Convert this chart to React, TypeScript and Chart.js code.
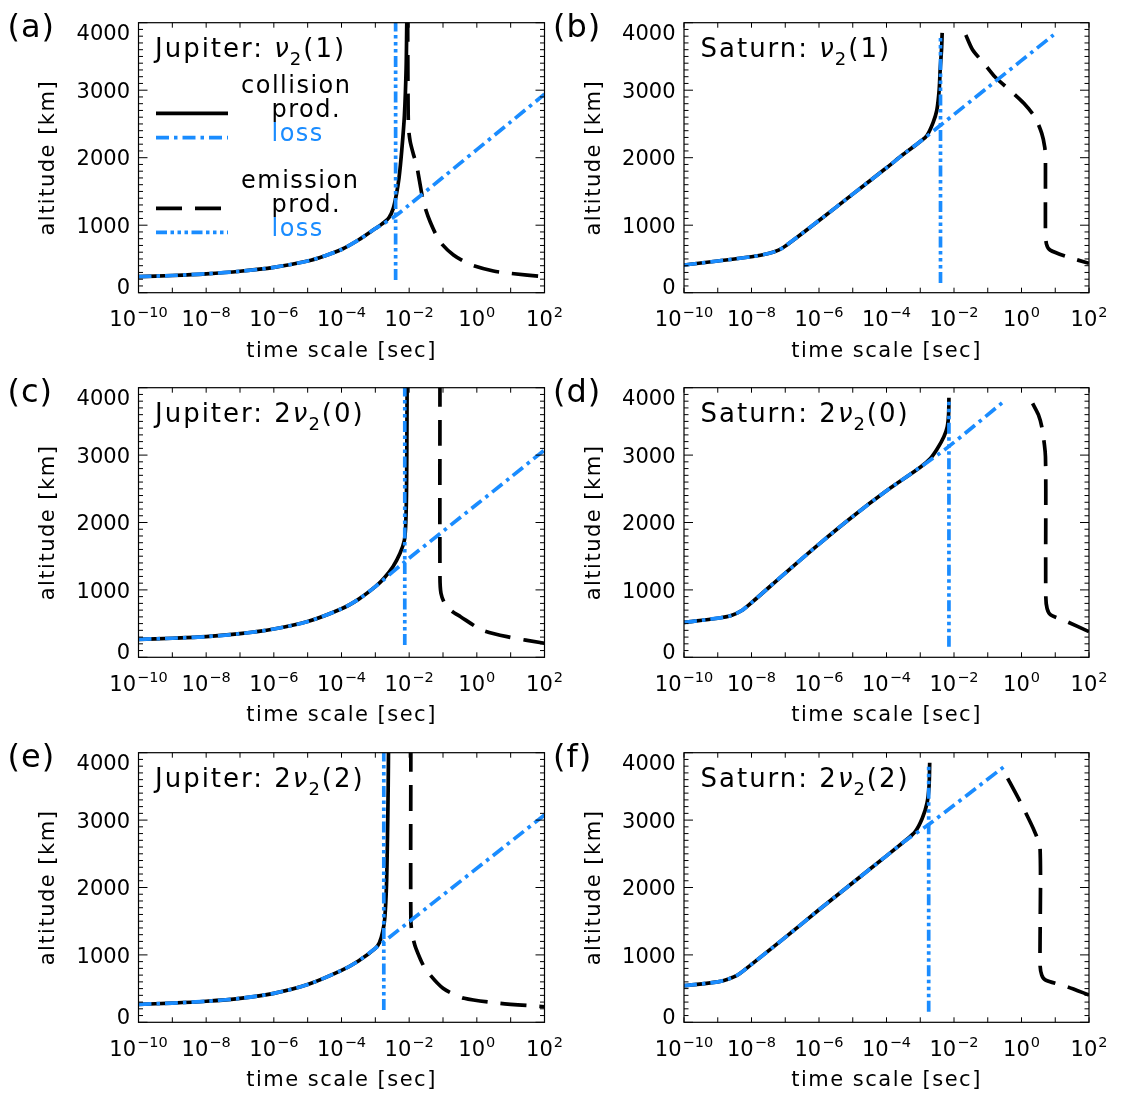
import React, { useEffect, useRef } from 'react';
import { Chart, registerables } from 'chart.js';

Chart.register(...registerables);

const FONT = '"DejaVu Sans", "Liberation Sans", sans-serif';
const BLUE = '#1a8cff';
const BLACK = '#000000';

// ---------- axes ----------
const xMinSec = 1e-10;
const xMaxSec = 1e2;
const yMinKm = 0;
const yMaxKm = 4000;
const yTickValues = [0, 1000, 2000, 3000, 4000];
const yMinorStepKm = 100;
const xTickExponents = [-10, -9, -8, -7, -6, -5, -4, -3, -2, -1, 0, 1, 2];
const xLabelExponents = [-10, -8, -6, -4, -2, 0, 2];

// ---------- data: log10(time scale [sec]) and altitude [km] ----------
// (a) Jupiter nu2(1)
const aCollProdLog = [-10, -9, -8, -7, -6, -5, -4.5, -4, -3.5, -3, -2.8, -2.6, -2.47, -2.38, -2.3, -2.22, -2.14, -2.09, -2.07, -2.065];
const aCollProdAlt = [237, 255, 280, 318, 375, 470, 545, 640, 780, 950, 1020, 1110, 1250, 1450, 1700, 2100, 2630, 3320, 4000, 4100];
const aCollLossLog = [-10, -9, -8, -7, -6, -5, -4.5, -4, -3.5, -3, -2.8, -2.4, -2, -1, 0, 1, 2];
const aCollLossAlt = [237, 255, 280, 318, 375, 470, 545, 640, 780, 950, 1010, 1140, 1300, 1710, 2120, 2530, 2940];
const aEmisProdLog = [-2.045, -2.035, -2.02, -1.97, -1.88, -1.78, -1.58, -1.38, -1.09, -0.69, -0.2, 0.49, 0.98, 2];
const aEmisProdAlt = [4100, 3000, 2450, 2240, 2060, 1890, 1350, 1050, 756, 558, 420, 321, 287, 237];
const aEmisLossLog = [-2.4, -2.4];
const aEmisLossAlt = [188, 4100];

// (b) Saturn nu2(1)
const bCollProdLog = [-10, -9, -8, -7.5, -7.2, -7, -6, -5, -4, -3.5, -3, -2.8, -2.62, -2.51, -2.44, -2.41, -2.37, -2.35];
const bCollProdAlt = [410, 470, 533, 580, 630, 690, 1070, 1460, 1850, 2050, 2240, 2330, 2520, 2700, 3000, 3300, 3600, 3850];
const bCollLossLog = [-10, -9, -8, -7.5, -7.2, -7, -6, -5, -4, -3.5, -3, -2.4, -1, 0.95];
const bCollLossAlt = [410, 470, 533, 580, 630, 690, 1070, 1460, 1850, 2050, 2240, 2480, 3040, 3820];
const bEmisProdLog = [-1.65, -1.45, -1.1, -0.79, -0.3, 0.07, 0.4, 0.6, 0.69, 0.71, 0.71, 0.74, 0.85, 1.35, 2];
const bEmisProdAlt = [3818, 3600, 3390, 3200, 2980, 2806, 2600, 2361, 2150, 1950, 900, 720, 630, 533, 435];
const bEmisLossLog = [-2.4, -2.4];
const bEmisLossAlt = [143, 3815];

// (c) Jupiter 2nu2(0)
const cCollProdLog = [-10, -9, -8, -7, -6, -5, -4, -3.5, -3, -2.75, -2.48, -2.27, -2.14, -2.1, -2.08, -2.07, -2.06];
const cCollProdAlt = [267, 283, 306, 350, 420, 530, 720, 860, 1048, 1170, 1344, 1543, 1740, 2000, 2400, 3000, 4100];
const cCollLossLog = [-10, -9, -8, -7, -6, -5, -4, -3.5, -3, -2.13, -1, 0, 1, 2];
const cCollLossAlt = [267, 283, 306, 350, 420, 530, 720, 860, 1048, 1418, 1870, 2270, 2670, 3076];
const cEmisProdLog = [-1.09, -1.09, -1.06, -0.95, -0.75, -0.48, 0.15, 0.89, 2];
const cEmisProdAlt = [4100, 1200, 950, 800, 690, 602, 405, 306, 208];
const cEmisLossLog = [-2.13, -2.13];
const cEmisLossAlt = [182, 4100];

// (d) Saturn 2nu2(0)
const dCollProdLog = [-10, -9, -8.6, -8.3, -8, -7, -6, -5, -4, -3, -2.7, -2.5, -2.3, -2.2, -2.16, -2.15];
const dCollProdAlt = [519, 580, 620, 690, 810, 1250, 1680, 2090, 2470, 2820, 2950, 3090, 3273, 3420, 3600, 3850];
const dCollLossLog = [-10, -9, -8.6, -8.3, -8, -7, -6, -5, -4, -3, -2.15, -0.55];
const dCollLossAlt = [519, 580, 620, 690, 810, 1250, 1680, 2090, 2470, 2820, 3130, 3785];
const dEmisProdLog = [0.33, 0.5, 0.6, 0.68, 0.71, 0.72, 0.72, 0.76, 0.87, 1.35, 2];
const dEmisProdAlt = [3768, 3600, 3422, 3150, 2976, 2500, 900, 720, 628, 528, 380];
const dEmisLossLog = [-2.15, -2.15];
const dEmisLossAlt = [157, 3800];

// (e) Jupiter 2nu2(2)
const eCollProdLog = [-10, -9, -8, -7, -6, -5, -4, -3.5, -3, -2.88, -2.78, -2.72, -2.67, -2.64, -2.62, -2.61];
const eCollProdAlt = [267, 285, 312, 355, 430, 560, 770, 910, 1098, 1180, 1350, 1550, 2037, 2779, 3500, 4100];
const eCollLossLog = [-10, -9, -8, -7, -6, -5, -4, -3.5, -3, -2.75, 2];
const eCollLossAlt = [267, 285, 312, 355, 430, 560, 770, 910, 1098, 1196, 3076];
const eEmisProdLog = [-1.95, -1.95, -1.9, -1.8, -1.53, -1.0, -0.37, 0.69, 2];
const eEmisProdAlt = [4100, 1500, 1280, 1098, 801, 504, 356, 282, 231];
const eEmisLossLog = [-2.75, -2.75];
const eEmisLossAlt = [182, 4100];

// (f) Saturn 2nu2(2)
const fCollProdLog = [-10, -9, -8.7, -8.41, -8, -7, -6, -5, -4, -3.48, -3.15, -2.94, -2.8, -2.74, -2.72];
const fCollProdAlt = [543, 600, 640, 702, 860, 1260, 1670, 2070, 2470, 2680, 2828, 3027, 3250, 3500, 3850];
const fCollLossLog = [-10, -9, -8.7, -8.41, -8, -7, -6, -5, -4, -3.48, -2.75, -0.52];
const fCollLossAlt = [543, 600, 640, 702, 860, 1260, 1670, 2070, 2470, 2680, 2935, 3792];
const fEmisProdLog = [-0.41, -0.04, 0.39, 0.55, 0.55, 0.6, 0.71, 1.35, 2];
const fEmisProdAlt = [3620, 3273, 2828, 2582, 850, 700, 628, 528, 405];
const fEmisLossLog = [-2.75, -2.75];
const fEmisLossAlt = [157, 3792];

// ---------- panel texts ----------
const panelLetters = ['(a)', '(b)', '(c)', '(d)', '(e)', '(f)'];
const panelPlanets = ['Jupiter:', 'Saturn:', 'Jupiter:', 'Saturn:', 'Jupiter:', 'Saturn:'];
const panelCoefs = ['', '', '2', '2', '2', '2'];
const panelLevels = ['(1)', '(1)', '(0)', '(0)', '(2)', '(2)'];
const xTitle = 'time scale [sec]';
const yTitle = 'altitude [km]';
const legendGroups = ['collision', 'emission'];
const legendRows = ['prod.', 'loss'];

// ---------- layout ----------
const COL_L = [138.5, 684];
const COL_R = [544.5, 1089];
const ROW_T = [22.7, 387.7, 752.7];
const ROW_B = [292.7, 657.3, 1022.3];
const COL_CX = [0, 548];
const COL_CW = [570, 580];
const ROW_CY = [0, 365, 730];
const ROW_CH = [366, 366, 372];

const STYLE = {
  collProd: { color: BLACK, dash: [] as number[] },
  collLoss: { color: BLUE, dash: [13, 5, 3.5, 5] },
  emisProd: { color: BLACK, dash: [26, 13] },
  emisLoss: { color: BLUE, dash: [11, 3.5, 3.5, 3.5, 3.5, 3.5, 3.5, 3.5] },
};
const LINE_W = 3.7;

type Series = [number[], number[]];
type PanelDef = {
  idx: number;
  col: number;
  row: number;
  cp: Series;
  cl: Series;
  ep: Series;
  el: Series;
};

const panels: PanelDef[] = [
  { idx: 0, col: 0, row: 0, cp: [aCollProdLog, aCollProdAlt], cl: [aCollLossLog, aCollLossAlt], ep: [aEmisProdLog, aEmisProdAlt], el: [aEmisLossLog, aEmisLossAlt] },
  { idx: 1, col: 1, row: 0, cp: [bCollProdLog, bCollProdAlt], cl: [bCollLossLog, bCollLossAlt], ep: [bEmisProdLog, bEmisProdAlt], el: [bEmisLossLog, bEmisLossAlt] },
  { idx: 2, col: 0, row: 1, cp: [cCollProdLog, cCollProdAlt], cl: [cCollLossLog, cCollLossAlt], ep: [cEmisProdLog, cEmisProdAlt], el: [cEmisLossLog, cEmisLossAlt] },
  { idx: 3, col: 1, row: 1, cp: [dCollProdLog, dCollProdAlt], cl: [dCollLossLog, dCollLossAlt], ep: [dEmisProdLog, dEmisProdAlt], el: [dEmisLossLog, dEmisLossAlt] },
  { idx: 4, col: 0, row: 2, cp: [eCollProdLog, eCollProdAlt], cl: [eCollLossLog, eCollLossAlt], ep: [eEmisProdLog, eEmisProdAlt], el: [eEmisLossLog, eEmisLossAlt] },
  { idx: 5, col: 1, row: 2, cp: [fCollProdLog, fCollProdAlt], cl: [fCollLossLog, fCollLossAlt], ep: [fEmisProdLog, fEmisProdAlt], el: [fEmisLossLog, fEmisLossAlt] },
];

function toPoints(s: Series) {
  return s[0].map((e, i) => ({ x: Math.pow(10, e), y: s[1][i] }));
}

function setFont(ctx: any, size: number, spacing = 0, style = '') {
  ctx.font = `${style} ${size}px ${FONT}`.trim();
  ctx.letterSpacing = `${spacing}px`;
}

function makeDecor(p: PanelDef) {
  return {
    id: 'decor' + p.idx,
    afterDraw(chart: any) {
      const ctx = chart.ctx;
      const { left: l, right: r, top: t, bottom: b } = chart.chartArea;
      const xs = chart.scales.x;
      const ys = chart.scales.y;
      ctx.save();
      ctx.setLineDash([]);
      ctx.strokeStyle = '#000';
      ctx.lineWidth = 1.2;
      ctx.strokeRect(l, t, r - l, b - t);

      // ticks (inward on all four sides)
      ctx.lineWidth = 1;
      ctx.beginPath();
      for (let v = yMinKm; v <= yMaxKm; v += yMinorStepKm) {
        const py = ys.getPixelForValue(v);
        const len = yTickValues.includes(v) ? 9 : 4.5;
        ctx.moveTo(l, py);
        ctx.lineTo(l + len, py);
        ctx.moveTo(r, py);
        ctx.lineTo(r - len, py);
      }
      for (const e of xTickExponents) {
        const px = xs.getPixelForValue(Math.pow(10, e));
        ctx.moveTo(px, b);
        ctx.lineTo(px, b - 5);
        ctx.moveTo(px, t);
        ctx.lineTo(px, t + 5);
      }
      ctx.stroke();

      ctx.fillStyle = '#000';
      ctx.textBaseline = 'alphabetic';

      // y tick labels
      setFont(ctx, 21);
      ctx.textAlign = 'right';
      for (const v of yTickValues) {
        let cy = ys.getPixelForValue(v);
        if (v === yMaxKm) cy = t + 9.8;
        if (v === yMinKm) cy = b - 6;
        ctx.fillText(String(v), l - 8.5, cy + 7.6);
      }

      // x tick labels: 10 with superscript exponent
      ctx.textAlign = 'left';
      for (const e of xLabelExponents) {
        const px = xs.getPixelForValue(Math.pow(10, e));
        const sup = (e < 0 ? '\u2212' : '') + String(Math.abs(e));
        setFont(ctx, 21);
        const wBase = ctx.measureText('10').width;
        setFont(ctx, 14.5);
        const wSup = ctx.measureText(sup).width;
        const x0 = px - (wBase + wSup + 1) / 2;
        setFont(ctx, 21);
        ctx.fillText('10', x0, b + 33.2);
        setFont(ctx, 14.5);
        ctx.fillText(sup, x0 + wBase + 1, b + 24.2);
      }

      // axis titles
      setFont(ctx, 21, 1.5);
      ctx.textAlign = 'center';
      ctx.fillText(xTitle, (l + r) / 2, b + 64);
      ctx.save();
      ctx.translate(l - 84.5, (t + b) / 2);
      ctx.rotate(-Math.PI / 2);
      ctx.fillText(yTitle, 0, 0);
      ctx.restore();

      // panel letter
      setFont(ctx, 32, 1);
      ctx.textAlign = 'left';
      ctx.fillText(panelLetters[p.idx], l - 131, t + 14);

      // panel title
      let x = l + 16.5;
      const base = t + 34;
      setFont(ctx, 26, 2);
      const pre = panelPlanets[p.idx] + ' ' + panelCoefs[p.idx];
      ctx.fillText(pre, x, base);
      x += ctx.measureText(pre).width;
      setFont(ctx, 26, 0, 'italic');
      ctx.fillText('\u03bd', x, base);
      x += ctx.measureText('\u03bd').width + 1;
      setFont(ctx, 18, 0);
      ctx.fillText('2', x, base + 8);
      x += ctx.measureText('2').width + 2;
      setFont(ctx, 26, 2);
      ctx.fillText(panelLevels[p.idx], x, base);

      // legend (panel a only)
      if (p.idx === 0) {
        const lineX0 = l + 17.5;
        const lineX1 = l + 89.5;
        const lines = [
          { y: t + 90.6, s: STYLE.collProd },
          { y: t + 115, s: STYLE.collLoss },
          { y: t + 185.6, s: STYLE.emisProd },
          { y: t + 209.6, s: STYLE.emisLoss },
        ];
        ctx.lineWidth = LINE_W;
        ctx.lineCap = 'butt';
        for (const ln of lines) {
          ctx.strokeStyle = ln.s.color;
          ctx.setLineDash(ln.s.dash);
          ctx.beginPath();
          ctx.moveTo(lineX0, ln.y);
          ctx.lineTo(lineX1, ln.y);
          ctx.stroke();
        }
        ctx.setLineDash([]);
        setFont(ctx, 24, 1.5);
        ctx.textAlign = 'left';
        const groupY = [t + 70.6, t + 165.6];
        for (let g = 0; g < 2; g++) {
          ctx.fillStyle = '#000';
          ctx.fillText(legendGroups[g], l + 102.5, groupY[g]);
          ctx.fillText(legendRows[0], l + 133, groupY[g] + 23.4);
          ctx.fillStyle = BLUE;
          ctx.fillText(legendRows[1], l + 133, groupY[g] + 47.5);
        }
      }
      ctx.restore();
    },
  };
}

function PanelChart({ p }: { p: PanelDef }) {
  const ref = useRef<HTMLCanvasElement>(null);
  const cx = COL_CX[p.col];
  const cy = ROW_CY[p.row];
  const w = COL_CW[p.col];
  const h = ROW_CH[p.row];
  useEffect(() => {
    const L = COL_L[p.col];
    const R = COL_R[p.col];
    const T = ROW_T[p.row];
    const B = ROW_B[p.row];
    const common = { showLine: true, pointRadius: 0, borderWidth: LINE_W, fill: false, clip: 0, borderCapStyle: 'butt', borderJoinStyle: 'round' };
    const chart = new Chart(ref.current as HTMLCanvasElement, {
      type: 'scatter',
      data: {
        datasets: [
          { ...common, label: 'emission loss', data: toPoints(p.el), borderColor: STYLE.emisLoss.color, borderDash: STYLE.emisLoss.dash, tension: 0 },
          { ...common, label: 'collision loss', data: toPoints(p.cl), borderColor: STYLE.collLoss.color, borderDash: STYLE.collLoss.dash, tension: 0.3 },
          { ...common, label: 'emission prod.', data: toPoints(p.ep), borderColor: STYLE.emisProd.color, borderDash: STYLE.emisProd.dash, tension: 0.25 },
          { ...common, label: 'collision prod.', data: toPoints(p.cp), borderColor: STYLE.collProd.color, borderDash: STYLE.collProd.dash, tension: 0.3 },
        ] as any,
      },
      options: {
        responsive: false,
        animation: false,
        events: [],
        layout: { padding: { left: L - cx, right: cx + w - R, top: T - cy, bottom: cy + h - B } },
        scales: {
          x: { type: 'logarithmic', min: xMinSec, max: xMaxSec, display: false },
          y: { type: 'linear', min: yMinKm, max: yMaxKm, display: false },
        },
        plugins: { legend: { display: false }, tooltip: { enabled: false } },
      } as any,
      plugins: [makeDecor(p)],
    });
    return () => chart.destroy();
  }, []);
  return (
    <canvas
      ref={ref}
      width={w}
      height={h}
      style={{ position: 'absolute', left: cx, top: cy, width: w, height: h, pointerEvents: 'none' }}
    />
  );
}

export default function App() {
  return (
    <div style={{ position: 'absolute', left: 0, top: 0, width: 1128, height: 1102, overflow: 'hidden', background: '#fff' }}>
      {panels.map((p) => (
        <PanelChart key={p.idx} p={p} />
      ))}
    </div>
  );
}
